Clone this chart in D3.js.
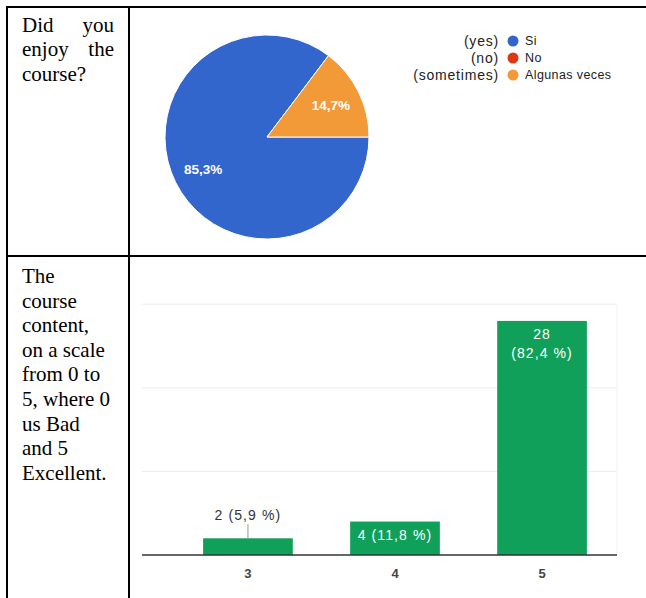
<!DOCTYPE html>
<html>
<head>
<meta charset="utf-8">
<script src="https://cdn.jsdelivr.net/npm/d3@7/dist/d3.min.js"></script>
<style>
  html, body { margin: 0; padding: 0; background: #fff; }
  svg { display: block; }
  .q { font-family: "Liberation Serif", "Times New Roman", serif; font-size: 21px; fill: #000; }
  .lbl { font-family: "Liberation Sans", Arial, sans-serif; }
</style>
</head>
<body>
<svg id="chart" width="646" height="598"></svg>
<script>
// Survey answers: "Did you enjoy the course?"
const pieCategories = ["Si", "No", "Algunas veces"];
const pieEnglish = ["(yes)", "(no)", "(sometimes)"];
const pieValues = [85.3, 0, 14.7];
const pieLabels = ["85,3%", "", "14,7%"];
const pieColors = ["#3366cc", "#dc3912", "#f29a37"];

// Survey answers: course content rating (0–5)
const barCategories = ["3", "4", "5"];
const barCounts = [2, 4, 28];
const barPercents = ["5,9", "11,8", "82,4"];
const barGridTicks = [0, 10, 20, 30];

// Question text, one line per entry (justified lines given as [left, right])
const question1 = [["Did", "you"], ["enjoy", "the"], ["course?"]];
const question2 = ["The", "course", "content,", "on a scale", "from 0 to", "5, where 0", "us Bad", "and 5", "Excellent."];

const svg = d3.select("#chart");

// ---- table frame ----
const frame = svg.append("g").attr("stroke", "#000").attr("stroke-width", 2);
frame.append("line").attr("x1", 7).attr("x2", 646).attr("y1", 7).attr("y2", 7);
frame.append("line").attr("x1", 7).attr("x2", 646).attr("y1", 256).attr("y2", 256);
frame.append("line").attr("x1", 7).attr("x2", 7).attr("y1", 6).attr("y2", 598);
frame.append("line").attr("x1", 129).attr("x2", 129).attr("y1", 6).attr("y2", 598);

// ---- question texts ----
const q1 = svg.append("g").attr("class", "q");
question1.forEach((words, i) => {
  const y = 32 + i * 24.3;
  q1.append("text").attr("x", 22).attr("y", y).text(words[0]);
  if (words[1]) q1.append("text").attr("x", 114).attr("y", y).attr("text-anchor", "end").text(words[1]);
});
const q2 = svg.append("g").attr("class", "q");
question2.forEach((line, i) => {
  q2.append("text").attr("x", 22).attr("y", 283 + i * 24.6).text(line);
});

// ---- pie chart ----
const cx = 267, cy = 137, R = 102;
const pie = d3.pie().sort(null).value(d => d)
  .startAngle(Math.PI / 2).endAngle(Math.PI / 2 + 2 * Math.PI);
const arcs = pie(pieValues);
const arc = d3.arc().innerRadius(0).outerRadius(R);
const labelArc = d3.arc().innerRadius(R * 0.7).outerRadius(R * 0.7);

const pg = svg.append("g").attr("transform", `translate(${cx},${cy})`);
pg.selectAll("path").data(arcs.filter(d => d.value > 0)).join("path")
  .attr("d", arc)
  .attr("fill", d => pieColors[d.index])
  .attr("stroke", "#fff").attr("stroke-width", 1);
pg.selectAll("text").data(arcs.filter(d => d.value > 0)).join("text")
  .attr("class", "lbl")
  .attr("transform", d => `translate(${labelArc.centroid(d)})`)
  .attr("text-anchor", "middle").attr("dy", "0.35em")
  .attr("font-size", 13.5).attr("font-weight", "bold")
  .attr("fill", "#fff")
  .text(d => pieLabels[d.index]);

// legend
const lg = svg.append("g");
pieCategories.forEach((c, i) => {
  const y = 41 + i * 17;
  lg.append("circle").attr("cx", 513).attr("cy", y).attr("r", 5.5).attr("fill", pieColors[i]);
  lg.append("text").attr("class", "lbl").attr("x", 525).attr("y", y).attr("dy", "0.35em")
    .attr("font-size", 12.5).attr("letter-spacing", 0.4).attr("fill", "#222").text(c);
  lg.append("text").attr("class", "lbl").attr("x", 499).attr("y", y).attr("dy", "0.35em")
    .attr("text-anchor", "end").attr("font-size", 14).attr("letter-spacing", 0.8)
    .attr("fill", "#222").text(pieEnglish[i]);
});

// ---- bar chart ----
const plotLeft = 142, plotRight = 617, baseY = 555;
const x = d3.scaleBand().domain(barCategories).range([159, 631]).paddingInner(0.39).paddingOuter(0.3);
const y = d3.scaleLinear().domain([0, 30]).range([baseY, baseY - 30 * 8.36]);

const bg = svg.append("g");
bg.selectAll("line.grid").data(barGridTicks.filter(t => t > 0)).join("line")
  .attr("class", "grid")
  .attr("x1", plotLeft).attr("x2", plotRight)
  .attr("y1", d => y(d)).attr("y2", d => y(d))
  .attr("stroke", "#ebebeb").attr("stroke-width", 1);
bg.append("line").attr("x1", plotRight).attr("x2", plotRight)
  .attr("y1", y(30)).attr("y2", baseY).attr("stroke", "#f2f2f2");

bg.selectAll("rect").data(barCounts).join("rect")
  .attr("x", (d, i) => x(barCategories[i]))
  .attr("width", x.bandwidth())
  .attr("y", d => y(d))
  .attr("height", d => baseY - y(d))
  .attr("fill", "#11a05a");

bg.append("line").attr("x1", plotLeft).attr("x2", plotRight)
  .attr("y1", baseY).attr("y2", baseY).attr("stroke", "#333").attr("stroke-width", 1.5);

// bar value labels
const labelStyle = sel => sel.attr("class", "lbl").attr("text-anchor", "middle")
  .attr("font-size", 14).attr("letter-spacing", 1.1);
barCounts.forEach((d, i) => {
  const xc = x(barCategories[i]) + x.bandwidth() / 2;
  const full = `${d} (${barPercents[i]} %)`;
  const h = baseY - y(d);
  if (h < 25) {
    // too short: label above with leader line
    bg.append("line").attr("x1", xc).attr("x2", xc).attr("y1", y(d) - 14).attr("y2", y(d))
      .attr("stroke", "#999").attr("stroke-width", 1);
    bg.append("text").call(labelStyle).attr("x", xc).attr("y", y(d) - 18)
      .attr("fill", "#333").text(full);
  } else if (h < 60) {
    bg.append("text").call(labelStyle).attr("x", xc).attr("y", y(d) + 18)
      .attr("fill", "#fff").text(full);
  } else {
    bg.append("text").call(labelStyle).attr("x", xc).attr("y", y(d) + 18)
      .attr("fill", "#fff").text(String(d));
    bg.append("text").call(labelStyle).attr("x", xc).attr("y", y(d) + 37)
      .attr("fill", "#fff").text(`(${barPercents[i]} %)`);
  }
});

// x axis labels
const xAxis = d3.axisBottom(x).tickSize(0).tickPadding(14);
const xg = bg.append("g").attr("transform", `translate(0,${baseY})`).call(xAxis);
xg.select(".domain").remove();
xg.selectAll("text").attr("font-family", "Liberation Sans, Arial, sans-serif")
  .attr("font-size", 13).attr("font-weight", "bold").attr("fill", "#444");
</script>
</body>
</html>
